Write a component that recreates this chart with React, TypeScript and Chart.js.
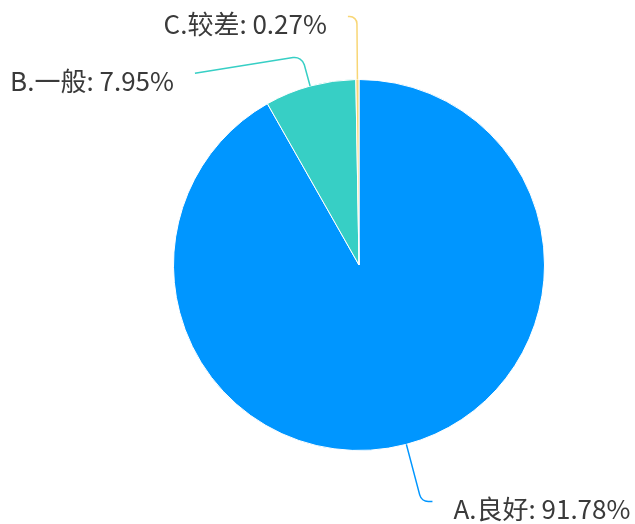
import React, { useEffect, useRef } from "react";
import { Chart, registerables } from "chart.js";

Chart.register(...registerables);

const categories = ["A.良好", "B.一般", "C.较差"];
const percentValues = [91.78, 7.95, 0.27];
const sliceColors = ["#0096ff", "#37cfc5", "#f8d675"];

// leader-line styling per slice (radial length, horizontal length, vertical drift)
const leaderLen1 = [59, 31, 63];
const leaderLen2 = [11, 107, 9];
const leaderDrift = [0, 17, 0];

const labelPlugin = {
  id: "pieLeaderLabels",
  afterDraw(chart: any) {
    const ctx = chart.ctx as CanvasRenderingContext2D;
    const meta = chart.getDatasetMeta(0);
    meta.data.forEach((arc: any, i: number) => {
      const { x, y, startAngle, endAngle, outerRadius } = arc.getProps(
        ["x", "y", "startAngle", "endAngle", "outerRadius"],
        true
      );
      const mid = (startAngle + endAngle) / 2;
      const cx = Math.cos(mid);
      const sy = Math.sin(mid);
      const ex = x + cx * outerRadius;
      const ey = y + sy * outerRadius;
      const bx = ex + cx * leaderLen1[i];
      const by = ey + sy * leaderLen1[i];
      const sign = cx >= 0 ? 1 : -1;
      const tx = bx + sign * leaderLen2[i];
      const ty = by + leaderDrift[i];
      const r = Math.min(10, leaderLen1[i] * 0.8, leaderLen2[i] * 0.8);
      ctx.save();
      ctx.strokeStyle = sliceColors[i];
      ctx.lineWidth = 1.5;
      ctx.beginPath();
      ctx.moveTo(ex, ey);
      ctx.arcTo(bx, by, tx, ty, r);
      ctx.lineTo(tx, ty);
      ctx.stroke();
      ctx.fillStyle = "#3a3a3a";
      ctx.font = "26px 'Noto Sans CJK SC', 'Noto Sans', sans-serif";
      ctx.textBaseline = "middle";
      ctx.textAlign = sign > 0 ? "left" : "right";
      const text = `${categories[i]}: ${percentValues[i].toFixed(2)}%`;
      ctx.fillText(text, tx + sign * 21, ty + 8);
      ctx.restore();
    });
  },
};

export default function App() {
  const ref = useRef<HTMLCanvasElement | null>(null);
  useEffect(() => {
    if (!ref.current) return;
    const chart = new Chart(ref.current, {
      type: "pie",
      data: {
        labels: categories,
        datasets: [
          {
            data: percentValues,
            backgroundColor: sliceColors,
            borderColor: "#ffffff",
            borderWidth: 1,
          },
        ],
      },
      options: {
        animation: false,
        responsive: true,
        maintainAspectRatio: false,
        layout: { padding: { top: 79, bottom: 73, left: 173, right: 90 } },
        plugins: {
          legend: { display: false },
          tooltip: { enabled: false },
        },
      },
      plugins: [labelPlugin],
    });
    return () => chart.destroy();
  }, []);
  return (
    <div
      style={{
        position: "absolute",
        left: 0,
        top: 0,
        width: 635,
        height: 524,
        background: "#ffffff",
      }}
    >
      <canvas ref={ref} />
    </div>
  );
}
